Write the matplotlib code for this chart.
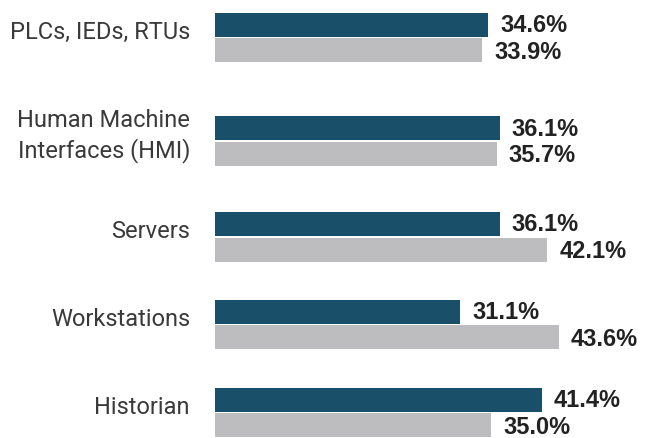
import matplotlib
matplotlib.use("Agg")
import matplotlib.pyplot as plt

# ======================== data
categories = ["PLCs, IEDs, RTUs", "Human Machine\nInterfaces (HMI)", "Servers",
              "Workstations", "Historian"]
series_a = [34.6, 36.1, 36.1, 31.1, 41.4]
series_b = [33.9, 35.7, 42.1, 43.6, 35.0]

# ======================== layout (pixel rows, groups are not evenly spaced)
group_mid = [37.3, 141.0, 236.7, 324.3, 412.3]
bar_h = 24.0
teal = "#1a4f6a"
grey = "#bdbdbf"

fig = plt.figure(figsize=(6.45, 4.38), dpi=100)
ax = fig.add_axes([215 / 645, 0, 430 / 645, 1])
px_per_pct = 7.89
ax.set_xlim(0, 430 / px_per_pct)
ax.set_ylim(438, 0)
ax.axis("off")

ya = [m - bar_h / 2 - 0.8 for m in group_mid]
yb = [m + bar_h / 2 + 0.8 for m in group_mid]
ax.barh(ya, series_a, height=bar_h, color=teal)
ax.barh(yb, series_b, height=bar_h, color=grey)

off = 12 / px_per_pct
for y, v in zip(ya, series_a):
    ax.text(v + off, y + 1, "{:.1f}%".format(v), va="center", ha="left",
            fontsize=17, fontweight="bold", color="#222222", family="Liberation Sans")
for y, v in zip(yb, series_b):
    ax.text(v + off, y + 2, "{:.1f}%".format(v), va="center", ha="left",
            fontsize=17, fontweight="bold", color="#222222", family="Liberation Sans")

for m, c in zip(group_mid, categories):
    ax.text(-25 / px_per_pct, m - 5, c, va="center", ha="right", fontsize=17,
            color="#3a3a3a", family="Roboto", fontweight="normal", linespacing=1.35,
            clip_on=False)

fig.savefig("out.png", dpi=100)
